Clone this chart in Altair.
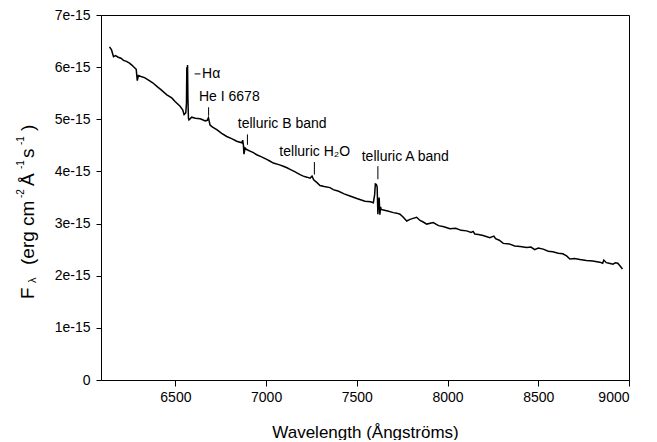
import altair as alt
import pandas as pd

# Spectrum (wavelength in Angstroms, flux in units of 1e-15 erg cm^-2 A^-1 s^-1)
wavelength = [6137, 6148, 6159, 6170, 6185, 6200, 6214, 6230, 6245, 6260, 6278, 6284, 6290, 6296,
              6310, 6330, 6352, 6375, 6398, 6420, 6453, 6480, 6498, 6526, 6540, 6548, 6557, 6561,
              6563, 6565, 6567, 6569, 6572, 6575, 6590, 6610, 6636, 6650, 6664, 6676, 6682, 6691,
              6705, 6728, 6755, 6783, 6810, 6838, 6866, 6871, 6875, 6878, 6884, 6893, 6911, 6930,
              6948, 6975, 7003, 7020, 7040, 7070, 7095, 7115, 7132, 7160, 7187, 7205, 7225, 7242,
              7253, 7262, 7279, 7297, 7320, 7352, 7370, 7400, 7430, 7462, 7500, 7545, 7575, 7591,
              7598, 7602, 7608, 7612, 7616, 7619, 7623, 7627, 7631, 7634, 7646, 7670, 7701, 7720,
              7738, 7756, 7775, 7793, 7810, 7830, 7848, 7866, 7885, 7921, 7950, 7980, 8013, 8045,
              8075, 8105, 8130, 8141, 8150, 8170, 8196, 8233, 8255, 8265, 8285, 8307, 8340, 8370,
              8400, 8436, 8460, 8480, 8500, 8527, 8555, 8580, 8610, 8635, 8656, 8674, 8700, 8730,
              8765, 8800, 8839, 8855, 8861, 8875, 8890, 8912, 8925, 8938, 8950, 8964]
flux = [6.39, 6.33, 6.20, 6.22, 6.19, 6.17, 6.13, 6.11, 6.08, 6.04, 5.98, 5.96, 5.74, 5.84,
        5.82, 5.80, 5.75, 5.70, 5.63, 5.57, 5.47, 5.41, 5.34, 5.25, 5.18, 5.09, 5.12, 5.30,
        6.00, 5.70, 6.04, 5.40, 5.02, 4.99, 5.04, 5.02, 5.01, 4.99, 4.97, 4.98, 5.03, 4.89,
        4.85, 4.80, 4.73, 4.67, 4.63, 4.58, 4.55, 4.60, 4.50, 4.33, 4.45, 4.42, 4.39, 4.36,
        4.32, 4.28, 4.23, 4.20, 4.16, 4.13, 4.10, 4.07, 4.04, 3.99, 3.94, 3.91, 3.89, 3.87,
        3.91, 3.84, 3.79, 3.73, 3.71, 3.69, 3.65, 3.62, 3.57, 3.53, 3.48, 3.43, 3.42, 3.40,
        3.55, 3.76, 3.75, 3.70, 3.18, 3.40, 3.50, 3.17, 3.32, 3.27, 3.26, 3.24, 3.21, 3.20,
        3.18, 3.12, 3.05, 3.08, 3.10, 3.12, 3.06, 3.03, 2.99, 3.02, 2.96, 2.94, 2.90, 2.91,
        2.87, 2.86, 2.83, 2.85, 2.80, 2.79, 2.77, 2.73, 2.76, 2.71, 2.68, 2.62, 2.61, 2.57,
        2.56, 2.54, 2.55, 2.50, 2.53, 2.51, 2.47, 2.46, 2.43, 2.42, 2.38, 2.32, 2.33, 2.31,
        2.29, 2.28, 2.26, 2.24, 2.30, 2.25, 2.24, 2.22, 2.25, 2.24, 2.19, 2.13]

# Annotation labels
label_text = ["H\u03b1", "He I 6678", "telluric B band", "telluric H\u2082O", "telluric A band"]
label_x = [6647, 6630, 6844, 7073, 7527]
label_y = [5.87, 5.43, 4.91, 4.37, 4.28]

# Vertical leader ticks
lead_x = [6683, 6897, 7266, 7616]
lead_y1 = [5.23, 4.71, 4.18, 4.10]
lead_y2 = [5.07, 4.51, 3.94, 3.85]

# Horizontal dash for H-alpha
dash_x1 = [6606]
dash_x2 = [6638]
dash_y = [5.87]

x_ticks = [6500, 7000, 7500, 8000, 8500, 9000]
y_ticks = [0, 1, 2, 3, 4, 5, 6, 7]

spec = pd.DataFrame({"wl": wavelength, "f": flux})
labels = pd.DataFrame({"x": label_x, "y": label_y, "t": label_text})
leads = pd.DataFrame({"x": lead_x, "y": lead_y1, "y2": lead_y2})
dash = pd.DataFrame({"x": dash_x1, "x2": dash_x2, "y": dash_y})
one = pd.DataFrame({"a": [0]})

FONT = "Liberation Sans"
PLOT_TOP = 15  # page y of plot top

xscale = alt.Scale(domain=[6090, 9000], nice=False, zero=False)
yscale = alt.Scale(domain=[0, 7], nice=False)

xaxis = alt.Axis(values=x_ticks, format="d", title="Wavelength (\u00c5ngstr\u00f6ms)", grid=False,
                 tickSize=6, labelPadding=4, labelFontSize=14, titleFontSize=17,
                 titleFontWeight="normal", titleY=52, titleBaseline="middle",
                 labelFont=FONT, titleFont=FONT, labelColor="black", titleColor="black")
yaxis = alt.Axis(values=y_ticks, title="", grid=False, tickSize=5, labelPadding=6, labelFontSize=14,
                 labelExpr="datum.value == 0 ? '0' : datum.value + 'e-15'",
                 labelFont=FONT, labelColor="black")

line = alt.Chart(spec).mark_line(color="black", strokeWidth=1.5).encode(
    x=alt.X("wl:Q", scale=xscale, axis=xaxis),
    y=alt.Y("f:Q", scale=yscale, axis=yaxis),
)

text = alt.Chart(labels).mark_text(align="left", baseline="middle", fontSize=14,
                                   font=FONT, color="black").encode(
    x=alt.X("x:Q", scale=xscale), y=alt.Y("y:Q", scale=yscale), text="t:N")

rules = alt.Chart(leads).mark_rule(color="black", strokeWidth=1).encode(
    x=alt.X("x:Q", scale=xscale), y=alt.Y("y:Q", scale=yscale), y2="y2:Q")

dashes = alt.Chart(dash).mark_rule(color="black", strokeWidth=1).encode(
    x=alt.X("x:Q", scale=xscale), x2="x2:Q", y=alt.Y("y:Q", scale=yscale))


def title_piece(s, page_x, page_y, size):
    # rotated y-axis title fragment, reading bottom to top
    return alt.Chart(one).mark_text(text=s, angle=270, align="left", baseline="middle",
                                    fontSize=size, font=FONT, color="black").encode(
        x=alt.value(page_x - 101), y=alt.value(page_y - PLOT_TOP))


ytitle = [
    title_piece("F", 28, 299, 19),
    title_piece("\u03bb", 33, 283, 11),
    title_piece("(erg cm", 28, 265, 19),
    title_piece("-2", 21, 198, 10),
    title_piece("\u00c5", 28, 186, 19),
    title_piece("-1", 21, 169, 10),
    title_piece("s", 28, 158, 19),
    title_piece("-1", 21, 145, 10),
    title_piece(")", 28, 131, 19),
]

chart = alt.layer(line, rules, dashes, text, *ytitle).properties(
    width=528, height=365,
    autosize=alt.AutoSizeParams(type="none"),
    padding={"left": 93, "top": 7, "right": 20, "bottom": 60},
).configure_view(stroke="black", strokeWidth=1).configure_axis(
    domainColor="black", tickColor="black", domainWidth=1, tickWidth=1
)

chart.save("out.html", embed_options={"renderer": "svg", "actions": False})
